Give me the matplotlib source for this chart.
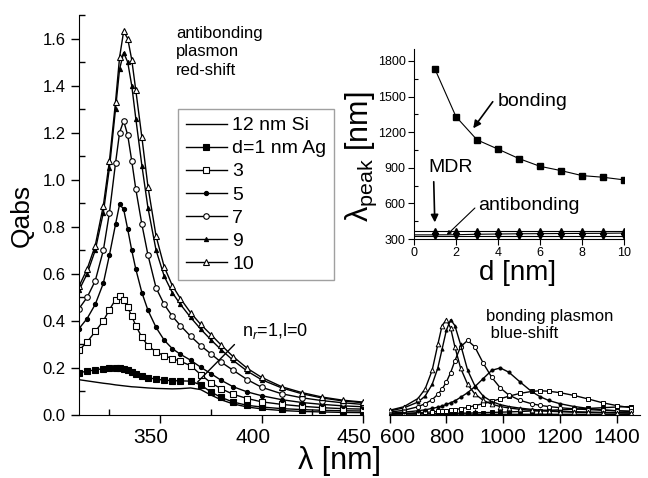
import matplotlib
matplotlib.use("Agg")
import matplotlib.pyplot as plt
from matplotlib.ticker import MultipleLocator
from matplotlib.transforms import ScaledTranslation

plt.rcParams['font.family'] = ['Liberation Sans', 'DejaVu Sans']
plt.rcParams['mathtext.fontset'] = 'custom'
plt.rcParams['mathtext.rm'] = 'Liberation Sans'
plt.rcParams['mathtext.it'] = 'Liberation Sans:italic'

# ---- left panel : antibonding plasmon (Qabs vs wavelength, nm)
lam_L = [310, 314, 318, 322, 325, 328, 330, 332, 334, 336, 338, 341, 344, 348, 352,
         356, 360, 365, 370, 375, 380, 386, 393, 400, 410, 420, 430, 440, 450]
si_L = [0.150, 0.145, 0.140, 0.135, 0.132, 0.128, 0.126, 0.124, 0.122, 0.120, 0.119, 0.117,
        0.115, 0.113, 0.112, 0.111, 0.112, 0.115, 0.108, 0.085, 0.065, 0.047, 0.034, 0.026,
        0.019, 0.015, 0.013, 0.011, 0.010]
d1_L = [0.180, 0.186, 0.192, 0.197, 0.199, 0.199, 0.198, 0.195, 0.190, 0.183, 0.176, 0.167,
        0.159, 0.152, 0.148, 0.146, 0.145, 0.144, 0.128, 0.098, 0.075, 0.055, 0.041, 0.034,
        0.027, 0.023, 0.020, 0.018, 0.017]
d3_L = [0.275, 0.310, 0.355, 0.400, 0.448, 0.490, 0.505, 0.490, 0.458, 0.420, 0.380, 0.330,
        0.295, 0.268, 0.252, 0.240, 0.228, 0.210, 0.172, 0.137, 0.112, 0.088, 0.070, 0.056,
        0.045, 0.037, 0.031, 0.027, 0.025]
d5_L = [0.367, 0.410, 0.470, 0.560, 0.680, 0.810, 0.895, 0.875, 0.790, 0.700, 0.620, 0.520,
        0.445, 0.372, 0.318, 0.282, 0.258, 0.233, 0.203, 0.176, 0.148, 0.120, 0.098, 0.082,
        0.065, 0.053, 0.045, 0.039, 0.035]
d7_L = [0.452, 0.500, 0.570, 0.700, 0.860, 1.070, 1.200, 1.250, 1.190, 1.080, 0.960, 0.810,
        0.680, 0.540, 0.470, 0.420, 0.380, 0.335, 0.295, 0.260, 0.225, 0.190, 0.150, 0.118,
        0.090, 0.073, 0.061, 0.052, 0.045]
d9_L = [0.530, 0.600, 0.700, 0.860, 1.050, 1.300, 1.470, 1.540, 1.500, 1.400, 1.260, 1.060,
        0.880, 0.700, 0.590, 0.520, 0.470, 0.415, 0.365, 0.320, 0.278, 0.232, 0.186, 0.150,
        0.115, 0.090, 0.072, 0.060, 0.052]
d10_L = [0.547, 0.620, 0.720, 0.890, 1.080, 1.330, 1.520, 1.630, 1.600, 1.510, 1.380, 1.180,
         0.970, 0.760, 0.630, 0.550, 0.495, 0.435, 0.385, 0.342, 0.298, 0.248, 0.198, 0.160,
         0.120, 0.095, 0.076, 0.063, 0.055]

# ---- right panel : bonding plasmon
lam_R = [600, 650, 700, 725, 750, 770, 785, 800, 815, 830, 850, 875, 900, 930, 960, 990,
         1020, 1060, 1100, 1130, 1160, 1200, 1250, 1300, 1350, 1400, 1450]
si_R = [0.006, 0.005, 0.005, 0.005, 0.004, 0.004, 0.004, 0.004, 0.004, 0.004, 0.004, 0.004,
        0.003, 0.003, 0.003, 0.003, 0.003, 0.003, 0.003, 0.003, 0.003, 0.003, 0.003, 0.003,
        0.003, 0.003, 0.003]
d1_R = [0.003, 0.004, 0.004, 0.005, 0.005, 0.006, 0.006, 0.006, 0.007, 0.007, 0.008, 0.008,
        0.009, 0.010, 0.011, 0.012, 0.013, 0.015, 0.017, 0.018, 0.020, 0.022, 0.025, 0.028,
        0.031, 0.034, 0.036]
d3_R = [0.005, 0.007, 0.010, 0.011, 0.013, 0.015, 0.016, 0.018, 0.020, 0.023, 0.027, 0.032,
        0.040, 0.048, 0.058, 0.069, 0.080, 0.092, 0.100, 0.103, 0.101, 0.095, 0.083, 0.068,
        0.052, 0.040, 0.031]
d5_R = [0.008, 0.012, 0.018, 0.022, 0.028, 0.033, 0.038, 0.045, 0.052, 0.060, 0.075, 0.095,
        0.120, 0.155, 0.190, 0.200, 0.182, 0.140, 0.100, 0.078, 0.062, 0.048, 0.036, 0.028,
        0.022, 0.018, 0.015]
d7_R = [0.012, 0.020, 0.035, 0.048, 0.065, 0.088, 0.110, 0.140, 0.180, 0.230, 0.290, 0.317,
        0.290, 0.220, 0.160, 0.115, 0.085, 0.062, 0.048, 0.041, 0.036, 0.031, 0.026, 0.023,
        0.020, 0.018, 0.016]
d9_R = [0.017, 0.030, 0.055, 0.080, 0.130, 0.200, 0.280, 0.360, 0.405, 0.380, 0.300, 0.190,
        0.125, 0.080, 0.057, 0.044, 0.036, 0.029, 0.024, 0.021, 0.019, 0.016, 0.014, 0.012,
        0.011, 0.010, 0.009]
d10_R = [0.020, 0.035, 0.070, 0.110, 0.190, 0.300, 0.380, 0.405, 0.370, 0.290, 0.200, 0.130,
         0.090, 0.062, 0.046, 0.036, 0.030, 0.024, 0.020, 0.018, 0.016, 0.014, 0.012, 0.011,
         0.010, 0.009, 0.008]

# ---- inset : peak position vs gap d
d_gap = [1, 2, 3, 4, 5, 6, 7, 8, 9, 10]
lam_bonding = [1730, 1330, 1135, 1057, 977, 912, 876, 834, 820, 798]
lam_anti = [365, 365, 365, 365, 365, 365, 365, 365, 365, 365]
lam_mid = [335, 336, 340, 342, 344, 345, 346, 347, 348, 350]
lam_mdr = [322, 322, 322, 322, 322, 322, 322, 322, 322, 322]

labels = ['12 nm Si', 'd=1 nm Ag', '3', '5', '7', '9', '10']
styles = [(None, 'k', 0), ('s', 'k', 4), ('s', 'w', 4), ('o', 'k', 3),
          ('o', 'w', 4), ('^', 'k', 3), ('^', 'w', 4.5)]
left_series = [si_L, d1_L, d3_L, d5_L, d7_L, d9_L, d10_L]
right_series = [si_R, d1_R, d3_R, d5_R, d7_R, d9_R, d10_R]

W, H = 648, 478
fig = plt.figure(figsize=(W / 100, H / 100), dpi=100)
ax = fig.add_axes([79 / W, 63 / H, 284 / W, 400 / H])
ax2 = fig.add_axes([389 / W, 63 / H, 251 / W, 400 / H])
axi = fig.add_axes([414 / W, 239 / H, 210 / W, 190 / H])
axi.patch.set_alpha(0)
ax2.patch.set_alpha(0)

for ys, (m, fc, ms), lab in zip(left_series, styles, labels):
    ax.plot(lam_L, ys, color='k', lw=1, marker=m, markerfacecolor=fc,
            markeredgecolor='k', markersize=ms, markeredgewidth=0.8, label=lab)
for ys, (m, fc, ms) in zip(right_series, styles):
    ax2.plot(lam_R, ys, color='k', lw=1, marker=m, markerfacecolor=fc,
             markeredgecolor='k', markersize=ms * 0.75, markeredgewidth=0.7)

for a in (ax, ax2):
    a.spines['top'].set_visible(False)
    a.spines['right'].set_visible(False)
    a.set_ylim(0, 1.7)
    a.tick_params(which='major', direction='out', length=6, width=1)
    a.tick_params(which='minor', direction='in', length=4, width=1)

ax.set_xlim(310, 450)
ax.xaxis.set_major_locator(MultipleLocator(50))
ax.xaxis.set_minor_locator(MultipleLocator(25))
ax.yaxis.set_major_locator(MultipleLocator(0.2))
ax.yaxis.set_minor_locator(MultipleLocator(0.1))
ax.yaxis.set_major_formatter(plt.FormatStrFormatter('%.1f'))
ax.tick_params(axis='x', labelsize=15)
ax.tick_params(axis='y', labelsize=12)

ax2.spines['left'].set_visible(False)
ax2.set_xlim(598, 1482)
ax2.set_xticks([600, 800, 1000, 1200, 1400])
ax2.xaxis.set_minor_locator(MultipleLocator(100))
ax2.set_yticks([])
ax2.tick_params(axis='x', labelsize=15)

# shift tick labels like the original
for lab in ax.get_xticklabels():
    lab.set_transform(lab.get_transform() + ScaledTranslation(-0.09, 0, fig.dpi_scale_trans))
lab600 = ax2.get_xticklabels()[0]
lab600.set_transform(lab600.get_transform() + ScaledTranslation(0.08, 0, fig.dpi_scale_trans))

leg = ax.legend(loc='upper left', bbox_to_anchor=(0.3486, 0.765), fontsize=14,
                frameon=True, fancybox=False, edgecolor='#888888', handlelength=2.1,
                labelspacing=0.28, borderpad=0.4, handletextpad=0.3, borderaxespad=0)
leg.get_frame().set_linewidth(1)

ax.text(358, 1.655, 'antibonding\nplasmon\nred-shift', fontsize=12, va='top',
        linespacing=1.3)
ax.annotate('', xy=(367.4, 0.131), xytext=(387.6, 0.308),
            arrowprops=dict(arrowstyle='-', color='k', lw=1))
ax.text(390.5, 0.356, 'n$_r$=1,l=0', fontsize=13, va='center')
ax2.text(941, 0.45, 'bonding plasmon\n blue-shift', fontsize=12, va='top',
         linespacing=1.15)

# inset
axi.plot(d_gap, lam_bonding, color='k', lw=0.8, marker='s', markersize=4)
axi.plot([0] + d_gap, [365] + lam_anti, color='k', lw=0.8, marker='^', markersize=4,
         markevery=list(range(1, 11)))
axi.plot([0] + d_gap, [335] + lam_mid, color='k', lw=0.8, marker='o', markersize=2,
         markevery=[10])
axi.plot([0] + d_gap, [322] + lam_mdr, color='k', lw=0.8, marker='v', markersize=4,
         markevery=list(range(1, 11)))
axi.set_xlim(0, 10)
axi.set_ylim(300, 1900)
axi.set_xticks([0, 2, 4, 6, 8, 10])
axi.xaxis.set_minor_locator(MultipleLocator(1))
axi.set_yticks([300, 600, 900, 1200, 1500, 1800])
axi.yaxis.set_minor_locator(MultipleLocator(150))
axi.spines['top'].set_visible(False)
axi.spines['right'].set_visible(False)
axi.tick_params(which='major', direction='out', length=4, width=0.8, labelsize=9, pad=2)
axi.tick_params(which='minor', direction='in', length=3, width=0.8)

arrow = dict(arrowstyle='-|>', color='k', lw=1.2, mutation_scale=11, shrinkA=0, shrinkB=0)
axi.annotate('', xy=(2.82, 1232), xytext=(3.75, 1456), arrowprops=arrow)
axi.text(4.0, 1462, 'bonding', fontsize=14, va='center')
axi.annotate('', xy=(0.99, 440), xytext=(0.94, 782), arrowprops=arrow)
axi.text(0.67, 898, 'MDR', fontsize=14, va='center')
axi.annotate('', xy=(1.56, 334), xytext=(2.9, 561),
             arrowprops=dict(arrowstyle='-|>', color='k', lw=0.8, mutation_scale=6,
                             shrinkA=0, shrinkB=0))
axi.text(3.05, 578, 'antibonding', fontsize=14, va='center')

fig.text(22 / W, 1 - 215 / H, 'Qabs', fontsize=19, rotation=90, ha='center', va='center')
fig.text(340 / W, 1 - 461 / H, 'λ [nm]', fontsize=22, ha='center', va='center')
fig.text(361 / W, 1 - 157 / H, 'λ$_{\\rm peak}$ [nm]', fontsize=22, rotation=90,
         ha='center', va='center')
fig.text(518 / W, 1 - 273 / H, 'd [nm]', fontsize=20, ha='center', va='center')

fig.savefig('out.png', dpi=100)
